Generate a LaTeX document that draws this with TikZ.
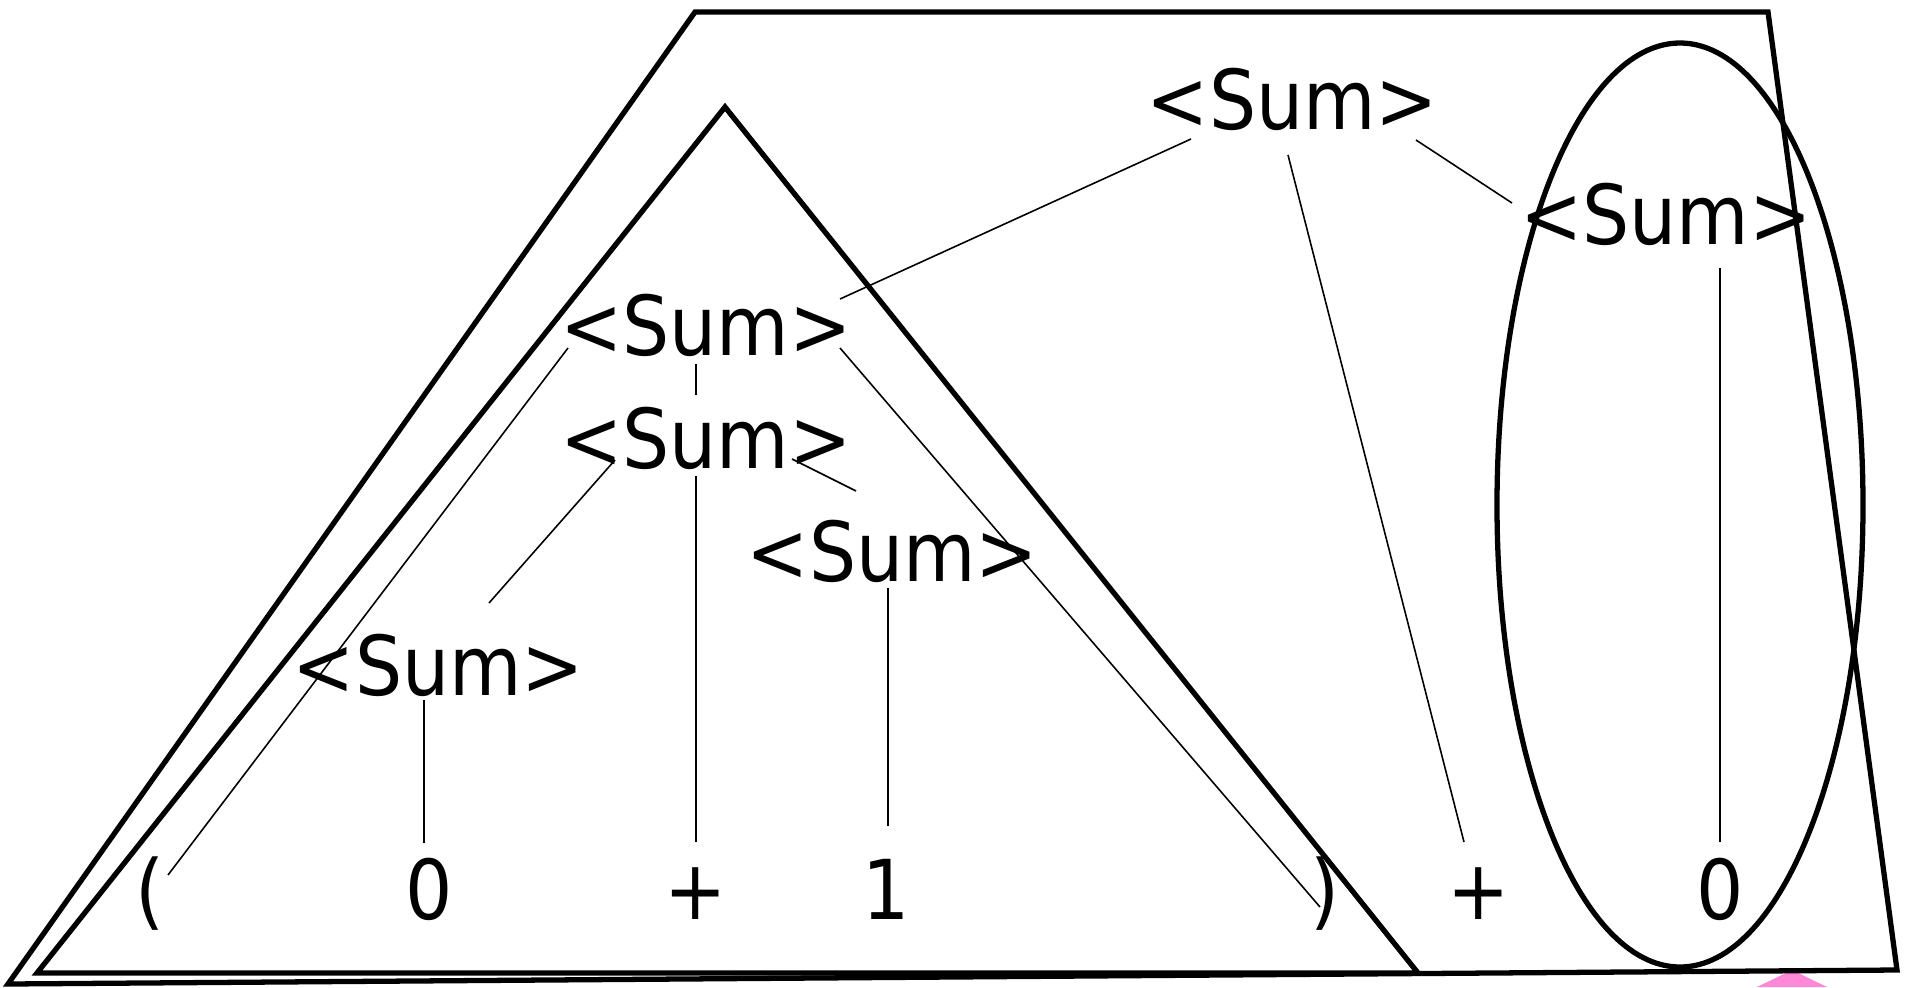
\documentclass[tikz,border=0pt]{standalone}
\usepackage{fontspec}
\newfontfamily\sumfont[FakeStretch=0.9]{DejaVu Sans}
\usepackage{xcolor}
\usepackage{tikz}
\definecolor{tabpink}{RGB}{255,136,216}

\begin{document}
\begin{tikzpicture}[
  x=0.01cm,y=-0.01cm,
  every node/.style={font=\sumfont\fontsize{23.5}{28}\selectfont,anchor=base,inner sep=0pt},
  frame/.style={line width=1.5pt,black},
  edge/.style={line width=0.45pt,black}
]
\useasboundingbox (0,0) rectangle (1908,987);
\fill[tabpink] (1757,987) -- (1792,970) -- (1827,987) -- cycle;
% outlines
\draw[frame] (695,12) -- (1768,12) -- (1897,970) -- (8,984) -- cycle;
\draw[frame] (725,107) -- (1418,973) -- (37,973) -- cycle;
\draw[frame] (1680,505) ellipse [x radius=183,y radius=462];
% tree
\node (s1) at (1292.5,129) {<Sum>};
\node (sr) at (1666,244) {<Sum>};
\node (s2) at (706,355) {<Sum>};
\node (s3) at (706,468) {<Sum>};
\node (s4) at (892.5,581) {<Sum>};
\node (s5) at (438.5,695) {<Sum>};
\node (lp) at (150,919) {(};
\node (z1) at (429.5,919) {0};
\node (p1) at (696,919) {+};
\node (one) at (886,919) {1};
\node (rp) at (1325,919) {)};
\node (p2) at (1478.5,919) {+};
\node (z2) at (1720,919) {0};
\draw[edge] ([shift={(-101.5,10)}]s1.base) -- ([shift={(134,-56)}]s2.base);
\draw[edge] ([shift={(-4.5,26)}]s1.base) -- ([shift={(-14.5,-77)}]p2.base);
\draw[edge] ([shift={(123.5,11)}]s1.base) -- ([shift={(-154,-41)}]sr.base);
\draw[edge] ([shift={(54,24)}]sr.base) -- ([shift={(0,-77)}]z2.base);
\draw[edge] ([shift={(-138,-7)}]s2.base) -- ([shift={(18,-44)}]lp.base);
\draw[edge] ([shift={(-10,9)}]s2.base) -- ([shift={(-10,-73)}]s3.base);
\draw[edge] ([shift={(134,-7)}]s2.base) -- ([shift={(-5,-12)}]rp.base);
\draw[edge] ([shift={(-91,-8)}]s3.base) -- ([shift={(50.5,-92)}]s5.base);
\draw[edge] ([shift={(-10,8)}]s3.base) -- ([shift={(0,-77)}]p1.base);
\draw[edge] ([shift={(86,-9)}]s3.base) -- ([shift={(-36.5,-90)}]s4.base);
\draw[edge] ([shift={(-4.5,7)}]s4.base) -- ([shift={(2,-93)}]one.base);
\draw[edge] ([shift={(-14.5,5)}]s5.base) -- ([shift={(-5.5,-76)}]z1.base);
\end{tikzpicture}
\end{document}
